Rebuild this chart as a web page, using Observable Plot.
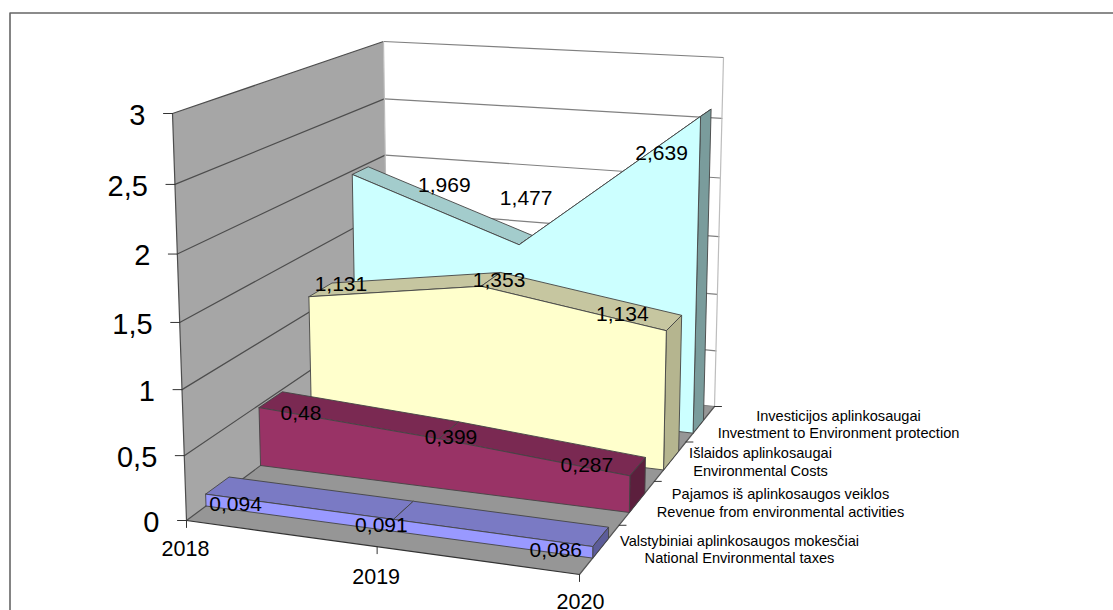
<!DOCTYPE html>
<html><head><meta charset="utf-8">
<script src="https://cdn.jsdelivr.net/npm/d3@7"></script>
<script src="https://cdn.jsdelivr.net/npm/@observablehq/plot@0.6"></script>
<style>html,body{margin:0;padding:0;background:#fff;overflow:hidden}svg{display:block}</style>
</head><body><div id="chart"></div>
<script>
// ---- data ----
const years = ["2018","2019","2020"];
const seriesLines = [
  ["Valstybiniai aplinkosaugos mokesčiai","National Environmental taxes"],
  ["Pajamos iš aplinkosaugos veiklos","Revenue from environmental activities"],
  ["Išlaidos aplinkosaugai","Environmental Costs"],
  ["Investicijos aplinkosaugai","Investment to Environment protection"]
];
const taxes = [0.094,0.091,0.086];
const revenue = [0.48,0.399,0.287];
const costs = [1.131,1.353,1.134];
const investment = [1.969,1.477,2.639];
const valueTicks = [0,0.5,1,1.5,2,2.5,3];

// ---- scene layout: the 3D box the values are projected through ----
const W=1113,H=610;
const floorQuad=[[186,520],[579,574],[714,406],[388,370]]; // (t,z)=(0,0),(1,0),(1,1),(0,1)
const topQuad=[[172,113],[582,142],[723,57],[383,41]];
const bands=[[.08,.18],[.32,.43],[.57,.69],[.81,.90]];
const faces=[
  {front:"#9999ff",top:"#7a7ac4",side:"#5c5c99"},
  {front:"#993366",top:"#7a2952",side:"#5c1f3d"},
  {front:"#ffffcc",top:"#c6c6a0",side:"#b5b58f"},
  {front:"#ccffff",top:"#a3cccc",side:"#7a9c9c"}
];
function homography(q){
  const [[x0,y0],[x1,y1],[x2,y2],[x3,y3]]=q;
  const dx1=x1-x2,dx2=x3-x2,sx=x0-x1+x2-x3,dy1=y1-y2,dy2=y3-y2,sy=y0-y1+y2-y3;
  const d=dx1*dy2-dx2*dy1;
  const g=(sx*dy2-dx2*sy)/d,h=(dx1*sy-sx*dy1)/d;
  const a=x1-x0+g*x1,b=x3-x0+h*x3,c=x0,e=y1-y0+g*y1,f=y3-y0+h*y3,k=y0;
  return (u,v)=>{const w=g*u+h*v+1;return [(a*u+b*v+c)/w,(e*u+f*v+k)/w];};
}
const floorH=homography(floorQuad),topH=homography(topQuad);
const vMax=valueTicks[valueTicks.length-1];
const heightPerspective=.055;
function P(t,z,v){
  const a=floorH(t,z),b=topH(t,z),r=v/vMax,s=r/(1+heightPerspective*(1-r));
  return [a[0]+(b[0]-a[0])*s,a[1]+(b[1]-a[1])*s];
}
// walls and floor
const wallPolys=[
  {pts:[P(0,0,0),P(0,0,3),P(0,1,3),P(0,1,0)],fill:"#a6a6a6"},
  {pts:[P(0,1,0),P(0,1,3),P(1,1,3),P(1,1,0)],fill:"#ffffff"},
  {pts:[P(0,0,0),P(1,0,0),P(1,1,0),P(0,1,0)],fill:"#969696"}
];
const wallLines=[];
for(const v of valueTicks){
  wallLines.push({pts:[P(0,0,v),P(0,1,v)],c:"#4d4d4d"});
  wallLines.push({pts:[P(0,1,v),P(1,1,v)],c:"#808080"});
}
wallLines.push({pts:[P(0,0,0),P(0,0,3)],c:"#4d4d4d"});
wallLines.push({pts:[P(0,1,0),P(0,1,3)],c:"#bdbdbd"});
wallLines.push({pts:[P(1,1,0),P(1,1,3)],c:"#bdbdbd"});
wallLines.push({pts:[P(0,0,0),P(1,0,0)],c:"#333"});
wallLines.push({pts:[P(1,0,0),P(1,1,0)],c:"#555"});
// areas, back to front
const allSeries=[taxes,revenue,costs,investment];
const ts=[0,.5,1];
const areaPolys=[];
for(let s=3;s>=0;s--){
  const [z0,z1]=bands[s],val=allSeries[s],f=faces[s];
  for(let i=0;i<2;i++) areaPolys.push({pts:[P(ts[i],z0,val[i]),P(ts[i+1],z0,val[i+1]),P(ts[i+1],z1,val[i+1]),P(ts[i],z1,val[i])],fill:f.top});
  areaPolys.push({pts:[P(1,z0,0),P(1,z0,val[2]),P(1,z1,val[2]),P(1,z1,0)],fill:f.side});
  areaPolys.push({pts:[P(0,z0,0),...ts.map((t,i)=>P(t,z0,val[i])),P(1,z0,0)],fill:f.front});
}
const polyRows=[];
wallPolys.forEach((p,i)=>p.pts.forEach(q=>polyRows.push({k:"w"+i,x:q[0],y:q[1],fill:p.fill})));
const areaRows=[];
areaPolys.forEach((p,i)=>[...p.pts,p.pts[0]].forEach(q=>areaRows.push({k:"a"+i,x:q[0],y:q[1],fill:p.fill})));
const lineRows=[];
wallLines.forEach((l,i)=>l.pts.forEach(q=>lineRows.push({k:"l"+i,x:q[0],y:q[1],c:l.c})));
// ticks
const tickRows=[];
valueTicks.forEach((v,i)=>{const p=P(0,0,v);tickRows.push({k:"v"+i,x:p[0],y:p[1]},{k:"v"+i,x:p[0]-9,y:p[1]});});
years.forEach((y,i)=>{const p=P(ts[i],0,0);tickRows.push({k:"y"+i,x:p[0],y:p[1]},{k:"y"+i,x:p[0],y:p[1]+7});});
[.25,.5,.75,1].forEach((z,i)=>{const p=P(1,z,0);tickRows.push({k:"z"+i,x:p[0],y:p[1]},{k:"z"+i,x:p[0]+7,y:p[1]});});
// label nudges away from the projected vertex
const labelNudge=[
  [[30,10],[-12,6],[-37,4]],
  [[42,6],[12,-2],[-43,-11]],
  [[32,-12],[18,-6],[-44,-16]],
  [[92,11],[7,-46.5],[-39,37]]
];
const valueFmt=v=>String(v).replace(".",",");
const valueLabels=[];
allSeries.forEach((val,s)=>val.forEach((v,i)=>{
  const p=P(ts[i],bands[s][0],v),n=labelNudge[s][i];
  valueLabels.push({x:p[0]+n[0],y:p[1]+n[1],text:valueFmt(v)});
}));
const tickLabels=valueTicks.map(v=>{const p=P(0,0,v);return {x:p[0]-27,y:p[1]+2,text:valueFmt(v)};});
const yearOffset=[[-1,29],[-1,30],[1,28]];
const yearLabels=years.map((y,i)=>{const p=P(ts[i],0,0);return {x:p[0]+yearOffset[i][0],y:p[1]+yearOffset[i][1],text:y};});
const seriesAnchor=[[739,549.5],[780,503],[760,462],[838,424.5]];
const seriesLabels=seriesLines.flatMap((l,s)=>l.map((t,j)=>({x:seriesAnchor[s][0],y:seriesAnchor[s][1]+(j-.5)*17.5,text:t})));

const frame=[{x:9.5,y:610},{x:9.5,y:12.5},{x:1113,y:12.5}];

const chart=Plot.plot({
  width:W,height:H,margin:0,
  x:{domain:[0,W],range:[0,W],axis:null},
  y:{domain:[0,H],range:[0,H],axis:null},
  style:{fontFamily:"'Liberation Sans',Arial,sans-serif",background:"#fff"},
  marks:[
    Plot.line(frame,{x:"x",y:"y",stroke:"#666",strokeWidth:1.6}),
    Plot.line(polyRows,{x:"x",y:"y",z:"k",fill:"fill",stroke:"none"}),
    Plot.line(lineRows,{x:"x",y:"y",z:"k",stroke:"c",strokeWidth:1.2}),
    Plot.line(areaRows,{x:"x",y:"y",z:"k",fill:"fill",stroke:"#444",strokeWidth:.9}),
    Plot.line(tickRows,{x:"x",y:"y",z:"k",stroke:"#333",strokeWidth:1}),
    Plot.text(tickLabels,{x:"x",y:"y",text:"text",textAnchor:"end",fontSize:29,fill:"#000"}),
    Plot.text(yearLabels,{x:"x",y:"y",text:"text",fontSize:21.5,fill:"#000"}),
    Plot.text(seriesLabels,{x:"x",y:"y",text:"text",fontSize:14.6,fill:"#000"}),
    Plot.text(valueLabels,{x:"x",y:"y",text:"text",fontSize:21,fill:"#000"})
  ]
});
document.getElementById("chart").append(chart);
</script></body></html>
